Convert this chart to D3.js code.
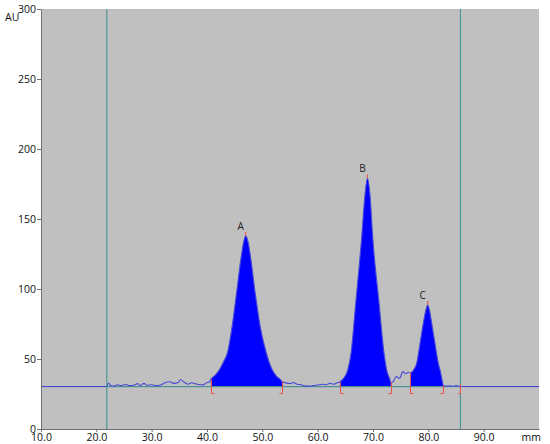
<!DOCTYPE html>
<html><head><meta charset="utf-8">
<script src="https://cdn.jsdelivr.net/npm/d3@7"></script>
<style>body{margin:0;background:#fff}svg{display:block}text{font-family:"Open Sans","DejaVu Sans",sans-serif}</style>
</head><body><svg id="c" width="550" height="444"></svg>
<script>
const traceMM = [21.9,22.2,22.6,23.2,23.8,24.5,25.2,26.0,26.8,27.4,28.0,28.6,29.2,30.0,30.8,31.6,32.5,33.2,34.0,34.8,35.2,35.8,36.6,37.2,37.8,38.5,39.3,39.9,40.4,
  40.7,41.5,42.35,43.0,43.74,44.57,45.37,46.15,46.6,47.0,47.4,47.9,48.68,49.58,50.67,51.7,52.5,53.2,53.6,
  54.2,55.0,55.6,56.3,57.0,57.7,58.5,59.3,60.0,60.8,61.5,62.2,62.9,63.5,
  64.0,64.64,65.43,66.03,66.88,67.96,68.5,69.0,69.5,69.95,71.09,72.0,72.48,73.08,73.2,
  73.6,74.2,74.8,75.4,75.9,76.4,
  76.7,77.3,77.9,78.5,79.09,79.5,79.89,80.25,80.61,81.2,81.8,82.24,82.53,82.7,
  83.2,83.8,84.4,85.0,85.5,85.8];
const traceAU = [30.3,32.8,31.0,30.6,31.6,31.0,31.8,31.0,31.3,32.4,31.0,32.6,31.2,31.6,31.0,31.4,33.2,33.8,32.6,33.2,35.4,33.6,32.0,33.0,32.4,31.8,31.5,33.0,33.6,
  35.5,38.5,43.0,48.0,55.0,74.0,98.0,122.0,133.0,138.0,134.0,122.0,98.0,74.0,55.0,43.0,38.0,35.5,33.8,
  33.0,32.4,33.2,32.0,31.6,30.8,30.6,31.0,31.4,32.0,31.5,32.6,32.0,33.0,
  33.6,36.0,42.0,54.0,90.0,137.0,165.0,179.0,165.0,137.0,90.0,54.0,42.0,35.0,33.2,
  33.6,37.4,36.2,41.0,39.5,40.5,
  40.0,42.0,47.0,61.0,75.5,84.0,88.6,84.0,75.5,61.0,47.0,40.0,34.0,31.0,
  30.6,30.9,30.5,31.0,30.6,30.4];
const peakNames = ["A","B","C"];
const peakStart = [40.7,64.0,76.7];
const peakEnd = [53.6,73.2,82.7];
const peakApex = [47.0,69.0,79.89];
const baselineAU = 30.3;
const cursorMM = [21.9,85.8];
const xTicks = [10,20,30,40,50,60,70,80,90];
const yTicks = [0,50,100,150,200,250,300];

const svg = d3.select("#c");
const x = d3.scaleLinear([10,100],[41,539]);
const y = d3.scaleLinear([0,300],[429,9]);
const pts = traceMM.map((m,i)=>({m, v: traceAU[i]}));
const valAt = m => pts.find(p=>Math.abs(p.m-m)<1e-9).v;
const FONT = "'Open Sans','DejaVu Sans',sans-serif";

svg.append("rect").attr("x",x(10)).attr("y",y(300)).attr("width",x(100)-x(10)).attr("height",y(0)-y(300)).attr("fill","#c0c0c0");

// fills
peakNames.forEach((n,i)=>{
  const sub = pts.filter(p=>p.m>=peakStart[i]-1e-9 && p.m<=peakEnd[i]+1e-9);
  svg.append("path").datum(sub)
    .attr("d", d3.area().x(p=>x(p.m)).y0(y(baselineAU)).y1(p=>y(p.v)).curve(d3.curveMonotoneX))
    .attr("fill","#0000ff");
});

// baseline
svg.append("line").attr("x1",x(10)).attr("x2",x(100)).attr("y1",y(baselineAU)).attr("y2",y(baselineAU)).attr("stroke","#3a3ad0").attr("stroke-width",1);
svg.append("line").attr("x1",x(cursorMM[0])).attr("x2",x(cursorMM[1])).attr("y1",y(baselineAU)).attr("y2",y(baselineAU)).attr("stroke","#4a9a8e").attr("stroke-width",1);

// trace
svg.append("path").datum(pts)
  .attr("d", d3.line().x(p=>x(p.m)).y(p=>y(p.v)).curve(d3.curveMonotoneX))
  .attr("fill","none").attr("stroke","#4848d8").attr("stroke-width",1.1);

// cursors
cursorMM.forEach(m=>svg.append("line").attr("x1",x(m)).attr("x2",x(m)).attr("y1",y(300)).attr("y2",y(0)).attr("stroke","#3a9090").attr("stroke-width",1));

// red markers
const red = "#e8504a";
const yb = y(baselineAU);
peakNames.forEach((n,i)=>{
  [[peakStart[i],1],[peakEnd[i],-1]].forEach(([m,dir])=>{
    const px = Math.round(x(m))+0.5;
    svg.append("path").attr("d",`M${px},${y(valAt(m))}V${yb+7}h${3*dir}`).attr("fill","none").attr("stroke",red).attr("stroke-width",1);
  });
  const ax = x(peakApex[i]), ay = y(valAt(peakApex[i]));
  svg.append("line").attr("x1",ax).attr("x2",ax).attr("y1",ay).attr("y2",ay-4).attr("stroke",red).attr("stroke-width",1);
  svg.append("text").attr("x",ax-5).attr("y",ay-6).attr("text-anchor","middle").attr("font-size",10).attr("fill","#222").text(n);
});
{
  const px = Math.round(x(cursorMM[1]))+0.5;
  svg.append("path").attr("d",`M${px},${yb-2}V${yb+7}h-2`).attr("fill","none").attr("stroke",red).attr("stroke-width",1);
}

// axes
const gy = svg.append("g").attr("transform",`translate(${x(10)},0)`).call(d3.axisLeft(y).tickValues(yTicks).tickFormat(d3.format("d")).tickSize(4).tickSizeOuter(0));
const gx = svg.append("g").attr("transform",`translate(0,${y(0)})`).call(d3.axisBottom(x).tickValues(xTicks).tickFormat(d3.format(".1f")).tickSize(3).tickSizeOuter(0));
[gx,gy].forEach(g=>{
  g.select(".domain").attr("stroke","#707070");
  g.selectAll(".tick line").attr("stroke","#707070");
  g.selectAll("text").attr("font-size",10.5).attr("fill","#111").style("font-family",FONT);
});
gx.selectAll("text").attr("y",12).attr("dy","0");
gy.selectAll("text").attr("x",-5);
svg.append("text").attr("x",5).attr("y",21).attr("font-size",10.5).attr("fill","#111").text("AU");
svg.append("text").attr("x",x(100)+2).attr("y",y(0)+12).attr("text-anchor","end").attr("font-size",10.5).attr("fill","#111").text("mm");
</script></body></html>
